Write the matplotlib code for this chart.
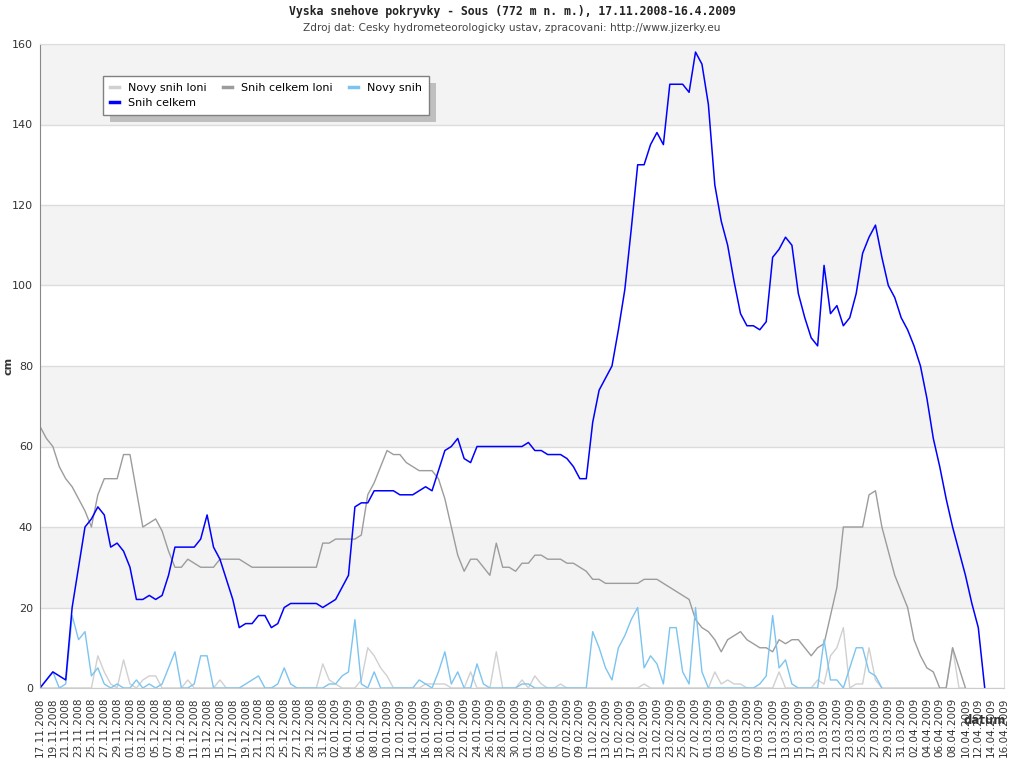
import matplotlib
matplotlib.use('Agg')
import matplotlib.pyplot as plt
import matplotlib.patches as mpatches
import numpy as np
import pandas as pd

# dny 17.11.2008 - 16.4.2009
dny = pd.date_range('2008-11-17', '2009-04-16', freq='D')

# Snih celkem (cm)
snih_celkem = [
    0, 2, 4, 3, 2, 20, 30, 40, 42, 45,
    43, 35, 36, 34, 30, 22, 22, 23, 22, 23,
    28, 35, 35, 35, 35, 37, 43, 35, 32, 27,
    22, 15, 16, 16, 18, 18, 15, 16, 20, 21,
    21, 21, 21, 21, 20, 21, 22, 25, 28, 45,
    46, 46, 49, 49, 49, 49, 48, 48, 48, 49,
    50, 49, 54, 59, 60, 62, 57, 56, 60, 60,
    60, 60, 60, 60, 60, 60, 61, 59, 59, 58,
    58, 58, 57, 55, 52, 52, 66, 74, 77, 80,
    89, 99, 114, 130, 130, 135, 138, 135, 150, 150,
    150, 148, 158, 155, 145, 125, 116, 110, 101, 93,
    90, 90, 89, 91, 107, 109, 112, 110, 98, 92,
    87, 85, 105, 93, 95, 90, 92, 98, 108, 112,
    115, 107, 100, 97, 92, 89, 85, 80, 72, 62,
    55, 47, 40, 34, 28, 21, 15, 0,
]

# Snih celkem loni
snih_celkem_loni = [
    65, 62, 60, 55, 52, 50, 47, 44, 40, 48,
    52, 52, 52, 58, 58, 49, 40, 41, 42, 39,
    34, 30, 30, 32, 31, 30, 30, 30, 32, 32,
    32, 32, 31, 30, 30, 30, 30, 30, 30, 30,
    30, 30, 30, 30, 36, 36, 37, 37, 37, 37,
    38, 48, 51, 55, 59, 58, 58, 56, 55, 54,
    54, 54, 52, 47, 40, 33, 29, 32, 32, 30,
    28, 36, 30, 30, 29, 31, 31, 33, 33, 32,
    32, 32, 31, 31, 30, 29, 27, 27, 26, 26,
    26, 26, 26, 26, 27, 27, 27, 26, 25, 24,
    23, 22, 17, 15, 14, 12, 9, 12, 13, 14,
    12, 11, 10, 10, 9, 12, 11, 12, 12, 10,
    8, 10, 11, 18, 25, 40, 40, 40, 40, 48,
    49, 40, 34, 28, 24, 20, 12, 8, 5, 4,
    0, 0, 10, 5, 0,
]

# Novy snih
novy_snih = [
    0, 2, 4, 0, 1, 18, 12, 14, 3, 5,
    1, 0, 1, 0, 0, 2, 0, 1, 0, 1,
    5, 9, 0, 0, 1, 8, 8, 0, 0, 0,
    0, 0, 1, 2, 3, 0, 0, 1, 5, 1,
    0, 0, 0, 0, 0, 1, 1, 3, 4, 17,
    1, 0, 4, 0, 0, 0, 0, 0, 0, 2,
    1, 0, 4, 9, 1, 4, 0, 0, 6, 1,
    0, 0, 0, 0, 0, 1, 1, 0, 0, 0,
    0, 0, 0, 0, 0, 0, 14, 10, 5, 2,
    10, 13, 17, 20, 5, 8, 6, 1, 15, 15,
    4, 1, 20, 4, 0, 0, 0, 0, 0, 0,
    0, 0, 1, 3, 18, 5, 7, 1, 0, 0,
    0, 0, 12, 2, 2, 0, 5, 10, 10, 4,
    3, 0,
]

# Novy snih loni
novy_snih_loni = [
    0, 0, 0, 0, 0, 0, 0, 0, 0, 8,
    4, 1, 0, 7, 1, 0, 2, 3, 3, 0,
    0, 0, 0, 2, 0, 0, 0, 0, 2, 0,
    0, 0, 0, 0, 0, 0, 0, 0, 0, 0,
    0, 0, 0, 0, 6, 2, 1, 0, 0, 0,
    2, 10, 8, 5, 3, 0, 0, 0, 0, 0,
    1, 1, 1, 1, 0, 0, 0, 4, 0, 0,
    0, 9, 0, 0, 0, 2, 0, 3, 1, 0,
    0, 1, 0, 0, 0, 0, 0, 0, 0, 0,
    0, 0, 0, 0, 1, 0, 0, 0, 0, 0,
    0, 0, 0, 0, 0, 4, 1, 2, 1, 1,
    0, 0, 0, 0, 0, 4, 0, 0, 0, 0,
    0, 2, 1, 8, 10, 15, 0, 1, 1, 10,
    2, 0, 0, 0, 0, 0, 0, 0, 0, 0,
    0, 0, 10, 0, 0,
]

fig = plt.figure(figsize=(10.24, 7.68), dpi=100)
ax = fig.add_axes([40 / 1024, 80 / 768, 964 / 1024, 644 / 768])

# pruhy pozadi
for y0 in range(20, 160, 40):
    ax.axhspan(y0, y0 + 20, color='#f3f3f3', zorder=0, lw=0)
ax.yaxis.grid(True, color='#dcdcdc', lw=1, zorder=0.5)
ax.set_axisbelow(True)

l1, = ax.plot(dny[:len(novy_snih_loni)], novy_snih_loni, color='#d0d0d0', lw=1, label='Novy snih loni')
l2, = ax.plot(dny[:len(snih_celkem_loni)], snih_celkem_loni, color='#9c9c9c', lw=1, label='Snih celkem loni')
l3, = ax.plot(dny[:len(novy_snih)], novy_snih, color='#7cc4ef', lw=1, label='Novy snih')
l4, = ax.plot(dny[:len(snih_celkem)], snih_celkem, color='#0000ff', lw=1.1, label='Snih celkem')

ax.set_xlim(dny[0], dny[-1])
ax.set_ylim(0, 160)
ax.set_yticks(range(0, 161, 20))
ax.tick_params(axis='y', length=0, labelsize=8, colors='#333333', pad=5)
ax.set_xticks(dny[::2])
ax.set_xticklabels([d.strftime('%d.%m.%Y') for d in dny[::2]], rotation=90, fontsize=7.5, color='#333333')
ax.tick_params(axis='x', length=0, pad=7)

for s in ['top', 'right']:
    ax.spines[s].set_color('#dddddd')
ax.spines['left'].set_color('#888888')
ax.spines['bottom'].set_color('#cccccc')

fig.text(0.5, 1 - 12 / 768, 'Vyska snehove pokryvky - Sous (772 m n. m.), 17.11.2008-16.4.2009',
         ha='center', va='center', family='DejaVu Sans Mono', weight='bold', fontsize=8.3, color='#222222')
fig.text(0.5, 1 - 28 / 768, 'Zdroj dat: Cesky hydrometeorologicky ustav, zpracovani: http://www.jizerky.eu',
         ha='center', va='center', fontsize=7.6, color='#444444')
fig.text(9 / 1024, 1 - 366 / 768, 'cm', rotation=90, ha='center', va='center', weight='bold', fontsize=8, color='#333333')
fig.text(985 / 1024, 1 - 721 / 768, 'datum', ha='center', va='center', weight='bold', fontsize=8.5, color='#333333')

leg = ax.legend([l1, l4, l2, l3], ['Novy snih loni', 'Snih celkem', 'Snih celkem loni', 'Novy snih'],
                ncol=3, loc='upper left', bbox_to_anchor=(63 / 964, 1 - 32 / 644), borderaxespad=0,
                fontsize=8, handlelength=0.8, handletextpad=0.8, columnspacing=1.5,
                labelspacing=0.45, borderpad=0.65, fancybox=False, framealpha=1,
                edgecolor='#808080')
leg.get_frame().set_linewidth(1)
for h in leg.get_lines():
    h.set_linewidth(2.5)

# stin legendy
fig.canvas.draw()
bb = leg.get_window_extent().transformed(ax.transAxes.inverted())
dx = 7 / 964
dy = 7 / 644
ax.add_patch(mpatches.Rectangle((bb.x0 + dx, bb.y0 - dy), bb.width, bb.height,
                                transform=ax.transAxes, color='#bfbfbf', lw=0, zorder=4.9))

fig.savefig('out.png', dpi=100)
